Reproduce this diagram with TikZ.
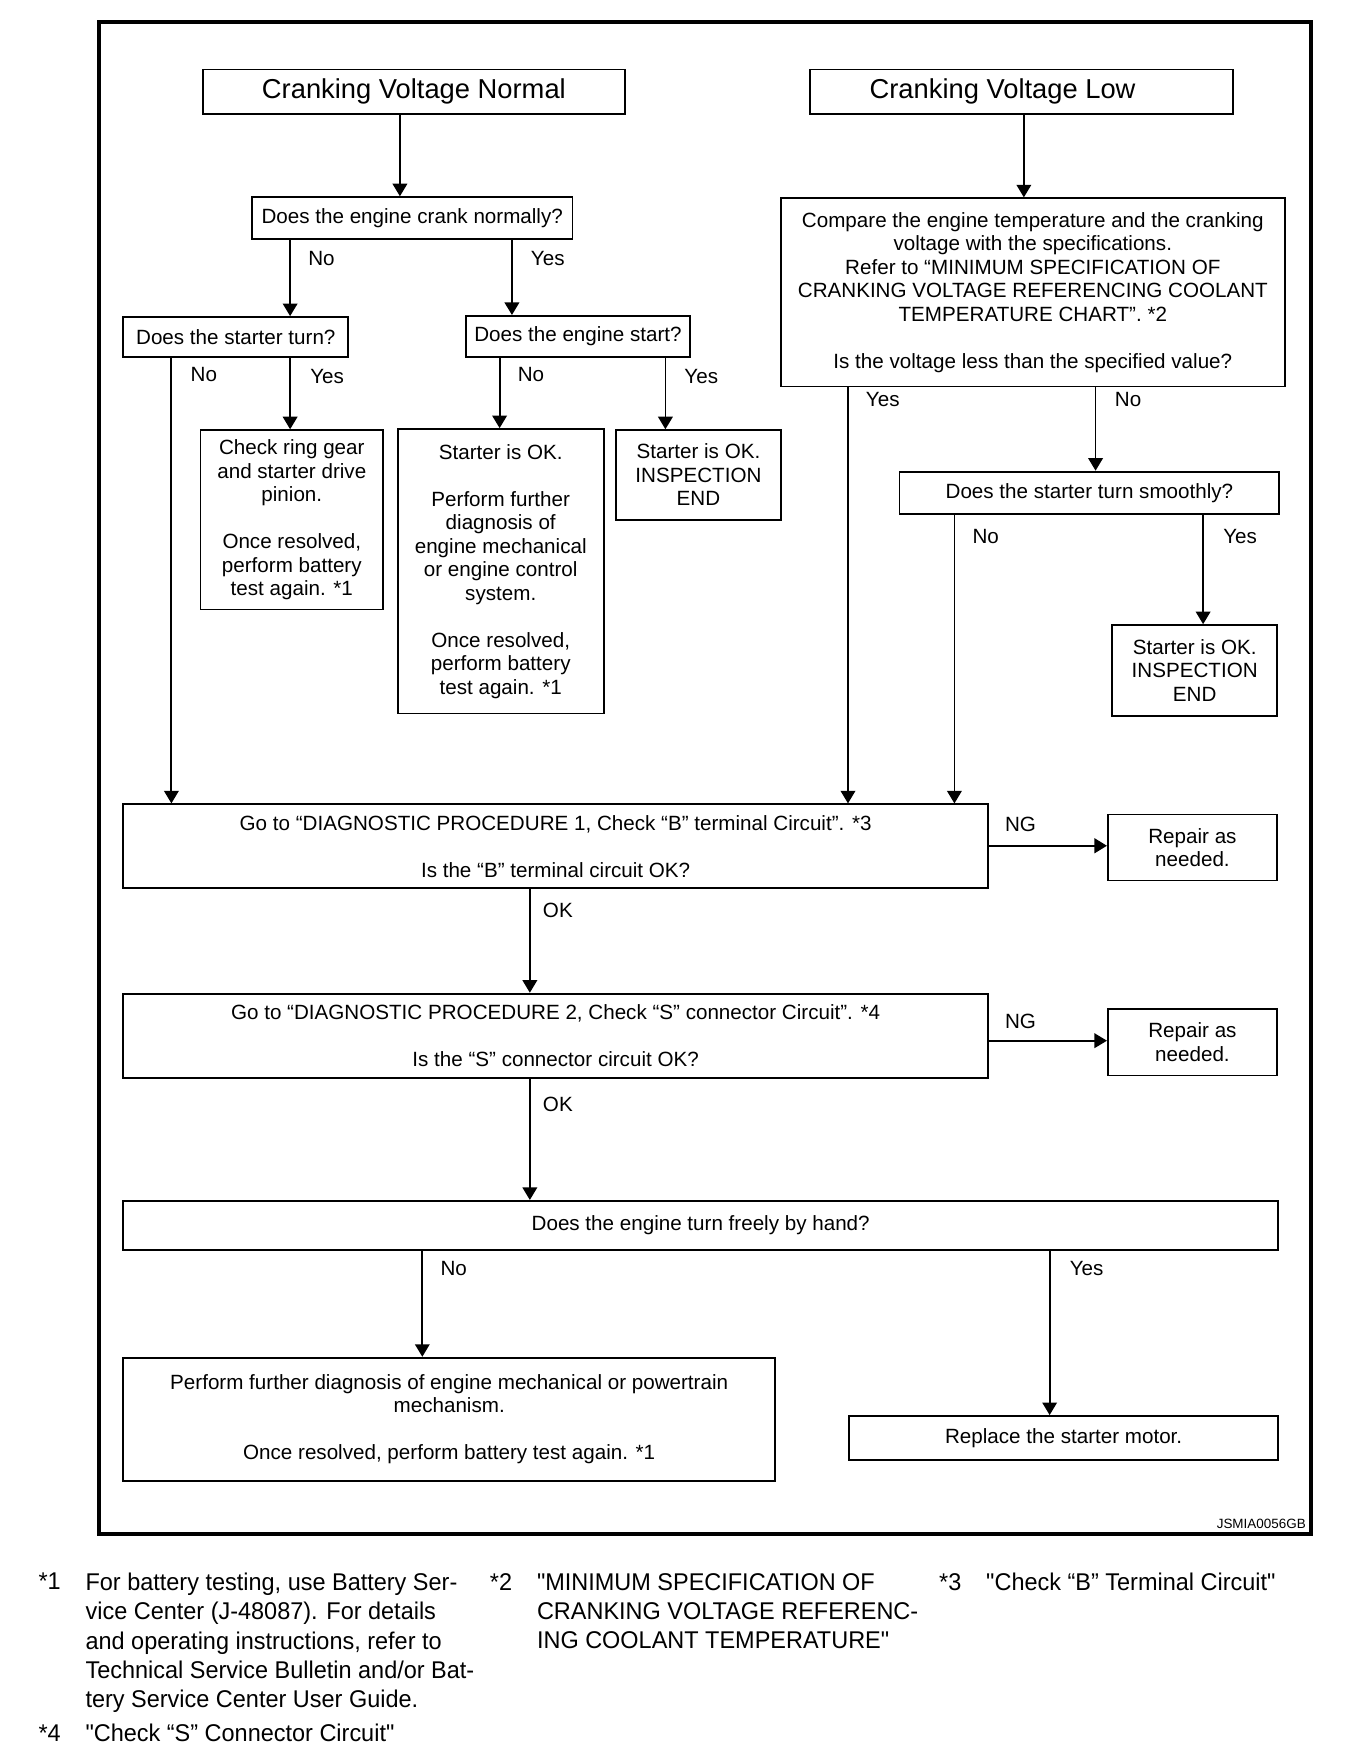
\documentclass[tikz,border=0pt]{standalone}
\usepackage{fontspec}
\setmainfont{Liberation Sans}
\newfontfamily\footfont{Liberation Sans}[FakeStretch=0.97,Ligatures=TeXOff]
\usetikzlibrary{arrows.meta}
\begin{document}
\begin{tikzpicture}[x=0.5pt,y=-0.5pt,
 box/.style={draw, line width=0.8pt, inner sep=0pt, align=center, font=\fontsize{9.2}{10.5}\selectfont},
 titlebox/.style={box, font=\fontsize{12.2}{14}\selectfont},
 sz/.style 2 args={minimum width=#1, minimum height=#2},
 lbl/.style={inner sep=0pt, font=\fontsize{9.2}{10.5}\selectfont},
 arr/.style={line width=0.8pt, -{Triangle[width=6.5pt,length=5.6pt]}},
 foot/.style={inner sep=0pt, anchor=north west, align=left, font=\footfont\fontsize{10.8}{13}\selectfont}]
\useasboundingbox (0,0) rectangle (1200,1564);
\draw[line width=1.8pt] (88,20) rectangle (1170,1369);

% boxes
\node[titlebox, sz={188.5pt}{20pt}] (n1) at (369.5,82) {Cranking Voltage Normal};
\node[titlebox, sz={189pt}{20pt}] (n2) at (912,82) {Cranking Voltage Low\hspace*{17pt}};
\node[box, sz={143pt}{18.5pt}] (q1) at (368,194.5) {Does the engine crank normally?};
\node[box, sz={225pt}{84pt}] (cmp) at (922,261) {Compare the engine temperature and the cranking\\voltage with the specifications.\\Refer to “MINIMUM SPECIFICATION OF\\CRANKING VOLTAGE REFERENCING COOLANT\\TEMPERATURE CHART”. *2\\[10.5pt]Is the voltage less than the specified value?};
\node[box, sz={100.5pt}{18pt}] (q2) at (210.5,301) {Does the starter turn?};
\node[box, sz={100pt}{18.5pt}] (q3) at (516,300.5) {Does the engine start?};
\node[box, sz={81.5pt}{80pt}] (r1) at (260.5,464) {Check ring gear\\and starter drive\\pinion.\\[10.5pt]Once resolved,\\perform battery\\test again. *1};
\node[box, sz={92pt}{127pt}] (r2) at (447,510) {Starter is OK.\\[10.5pt]Perform further\\diagnosis of\\engine mechanical\\or engine control\\system.\\[10.5pt]Once resolved,\\perform battery\\test again. *1};
\node[box, sz={73.5pt}{40pt}] (r3) at (623.5,424) {Starter is OK.\\INSPECTION\\END};
\node[box, sz={169.5pt}{19pt}] (q4) at (972.5,440) {Does the starter turn smoothly?};
\node[box, sz={73.5pt}{40.5pt}] (r4) at (1066.5,598.5) {Starter is OK.\\INSPECTION\\END};
\node[box, sz={386pt}{37.5pt}] (g1) at (496,755.5) {Go to “DIAGNOSTIC PROCEDURE 1, Check “B” terminal Circuit”. *3\\[10.5pt]Is the “B” terminal circuit OK?};
\node[box, sz={75.5pt}{29.5pt}] (rep1) at (1064.5,756.5) {Repair as\\needed.};
\node[box, sz={386pt}{37.5pt}] (g2) at (496,924.5) {Go to “DIAGNOSTIC PROCEDURE 2, Check “S” connector Circuit”. *4\\[10.5pt]Is the “S” connector circuit OK?};
\node[box, sz={75.5pt}{29.5pt}] (rep2) at (1064.5,930.5) {Repair as\\needed.};
\node[box, sz={515.5pt}{22pt}] (q5) at (625.5,1094) {Does the engine turn freely by hand?};
\node[box, sz={291pt}{55pt}] (r5) at (401,1267) {Perform further diagnosis of engine mechanical or powertrain\\mechanism.\\[10.5pt]Once resolved, perform battery test again. *1};
\node[box, sz={191.5pt}{19.5pt}] (r6) at (949.5,1283.5) {Replace the starter motor.};

% connectors
\draw[arr] (n1.south -| 357,0) -- (q1.north -| 357,0);
\draw[arr] (n2.south -| 914,0) -- (cmp.north -| 914,0);
\draw[arr] (q1.south -| 259,0) -- (q2.north -| 259,0);
\draw[arr] (q1.south -| 457,0) -- (q3.north -| 457,0);
\draw[arr] (q2.south -| 153,0) -- (g1.north -| 153,0);
\draw[arr] (q2.south -| 259,0) -- (r1.north -| 259,0);
\draw[arr] (q3.south -| 446,0) -- (r2.north -| 446,0);
\draw[arr] (q3.south -| 594,0) -- (r3.north -| 594,0);
\draw[arr] (cmp.south -| 757,0) -- (g1.north -| 757,0);
\draw[arr] (cmp.south -| 978,0) -- (q4.north -| 978,0);
\draw[arr] (q4.south -| 852,0) -- (g1.north -| 852,0);
\draw[arr] (q4.south -| 1074,0) -- (r4.north -| 1074,0);
\draw[arr, line width=1.1pt] (g1.east |- 0,755) -- (rep1.west |- 0,755);
\draw[arr] (g1.south -| 473,0) -- (g2.north -| 473,0);
\draw[arr] (g2.east |- 0,929) -- (rep2.west |- 0,929);
\draw[arr] (g2.south -| 473,0) -- (q5.north -| 473,0);
\draw[arr] (q5.south -| 377,0) -- (r5.north -| 377,0);
\draw[arr] (q5.south -| 937,0) -- (r6.north -| 937,0);

% labels
\node[lbl] (l1) at (287,231) {No};
\node[lbl] (l2) at (489,231) {Yes};
\node[lbl] (l3) at (182,334) {No};
\node[lbl] (l4) at (292,336) {Yes};
\node[lbl] (l5) at (474,334) {No};
\node[lbl] (l6) at (626,336) {Yes};
\node[lbl] (l7) at (788,357) {Yes};
\node[lbl] (l8) at (1007,357) {No};
\node[lbl] (l9) at (880,479) {No};
\node[lbl] (l10) at (1107,479) {Yes};
\node[lbl] (l11) at (911,736) {NG};
\node[lbl] (l12) at (498,813) {OK};
\node[lbl] (l13) at (911,912) {NG};
\node[lbl] (l14) at (498,986) {OK};
\node[lbl] (l15) at (405,1132) {No};
\node[lbl] (l16) at (970,1132) {Yes};
\node[inner sep=0pt, anchor=east, font=\fontsize{6}{7}\selectfont] (code) at (1166,1360) {JSMIA0056GB};

% footnotes
\node[foot] (m1) at (34,1404) {*1};
\node[foot] (f1) at (76,1404) {For battery testing, use Battery Ser-\\vice Center (J-48087). For details\\and operating instructions, refer to\\Technical Service Bulletin and/or Bat-\\tery Service Center User Guide.};
\node[foot] (m2) at (437,1404) {*2};
\node[foot] (f2) at (479,1404) {"MINIMUM SPECIFICATION OF\\CRANKING VOLTAGE REFERENC-\\ING COOLANT TEMPERATURE"};
\node[foot] (m3) at (838,1404) {*3};
\node[foot] (f3) at (880,1404) {"Check “B” Terminal Circuit"};
\node[foot] (m4) at (34,1539) {*4};
\node[foot] (f4) at (76,1539) {"Check “S” Connector Circuit"};
\end{tikzpicture}
\end{document}
